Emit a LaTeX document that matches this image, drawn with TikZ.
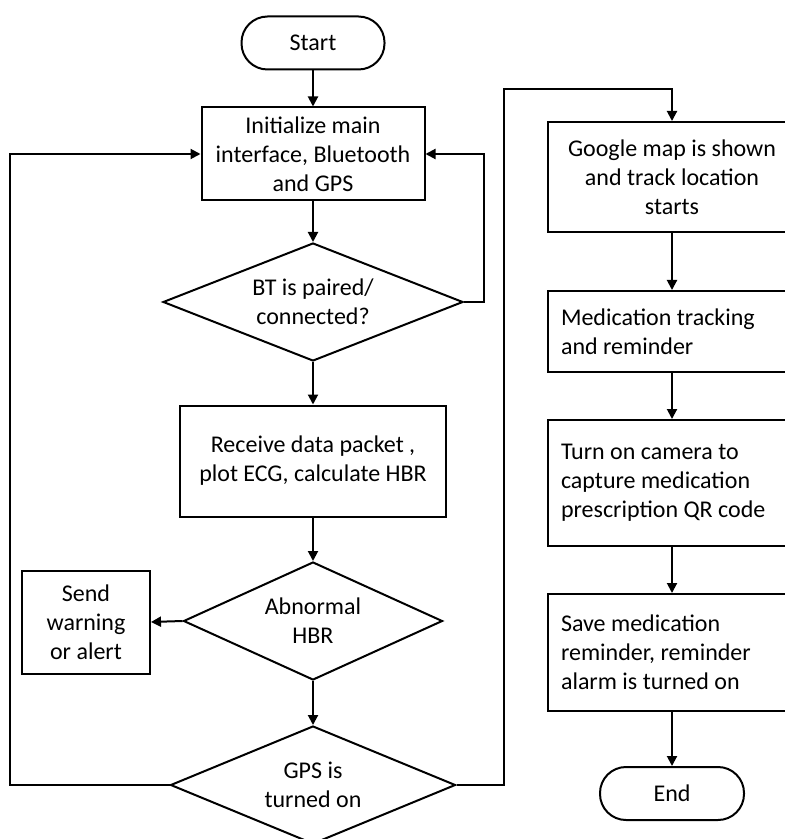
\documentclass[tikz,border=0pt]{standalone}
\usepackage{fontspec}
\setmainfont{Carlito}
\usetikzlibrary{shapes.geometric,arrows.meta}
\begin{document}
\begin{tikzpicture}[x=0.5pt, y=-0.5pt, line width=1pt,
  every node/.style={font=\fontsize{12}{14.5}\selectfont},
  term/.style={draw,rounded corners=13pt,minimum width=71.5pt,minimum height=26.5pt},
  procbox/.style={draw,align=center,inner sep=0pt},
  leftbox/.style={draw,align=flush left,inner sep=0pt,text width=111pt,minimum width=124pt},
  decide/.style={draw,diamond,aspect=2.5,align=center,inner sep=0pt},
  arr/.style={-{Triangle[length=5pt,width=5pt]}}]
  \useasboundingbox (0,0) rectangle (784,839);
  % left column
  \node[term] (start) at (313,43) {Start};
  \node[procbox,minimum width=111.5pt,minimum height=46.5pt] (init) at (313,154)
    {Initialize main\\interface, Bluetooth\\and GPS};
  \node[decide,minimum width=150pt,minimum height=59pt] (bt) at (313,302)
    {BT is paired/\\connected?};
  \node[procbox,minimum width=133pt,minimum height=55.5pt] (recv) at (313,461)
    {Receive data packet ,\\plot ECG, calculate HBR};
  \node[decide,minimum width=129.5pt,minimum height=59pt] (hbr) at (313,621)
    {Abnormal\\HBR};
  \node[procbox,minimum width=64pt,minimum height=51.5pt] (warn) at (86,622)
    {Send\\warning\\or alert};
  \node[decide,minimum width=142.5pt,minimum height=59pt] (gps) at (313,785)
    {GPS is\\turned on};
  % right column
  \node[procbox,minimum width=124pt,minimum height=55pt] (map) at (672,177)
    {Google map is shown\\and track location\\starts};
  \node[leftbox,minimum height=40.5pt] (med) at (672,331.5)
    {Medication tracking\\and reminder};
  \node[leftbox,minimum height=63pt] (cam) at (672,483)
    {Turn on camera to\\capture medication\\prescription QR code};
  \node[leftbox,minimum height=58.5pt] (save) at (672,652.5)
    {Save medication\\reminder, reminder\\alarm is turned on};
  \node[term,minimum width=72pt] (end) at (672,793.5) {End};
  % arrows
  \draw[arr] (start) -- (init);
  \draw[arr] (init) -- (bt);
  \draw[arr] (bt) -- (recv);
  \draw[arr] (recv) -- (hbr);
  \draw[arr] (hbr) -- (gps);
  \draw[arr] (hbr.west) -- (warn.east);
  \draw[arr] (bt.east) -- ++(20,0) |- (init.east);
  \draw[arr] (gps.west) -- ++(-160,0) |- (init.west);
  \draw[arr] (gps.east) -- ++(47,0) -- ++(0,-696) -| (map.north);
  \draw[arr] (map) -- (med);
  \draw[arr] (med) -- (cam);
  \draw[arr] (cam) -- (save);
  \draw[arr] (save) -- (end);
\end{tikzpicture}
\end{document}
